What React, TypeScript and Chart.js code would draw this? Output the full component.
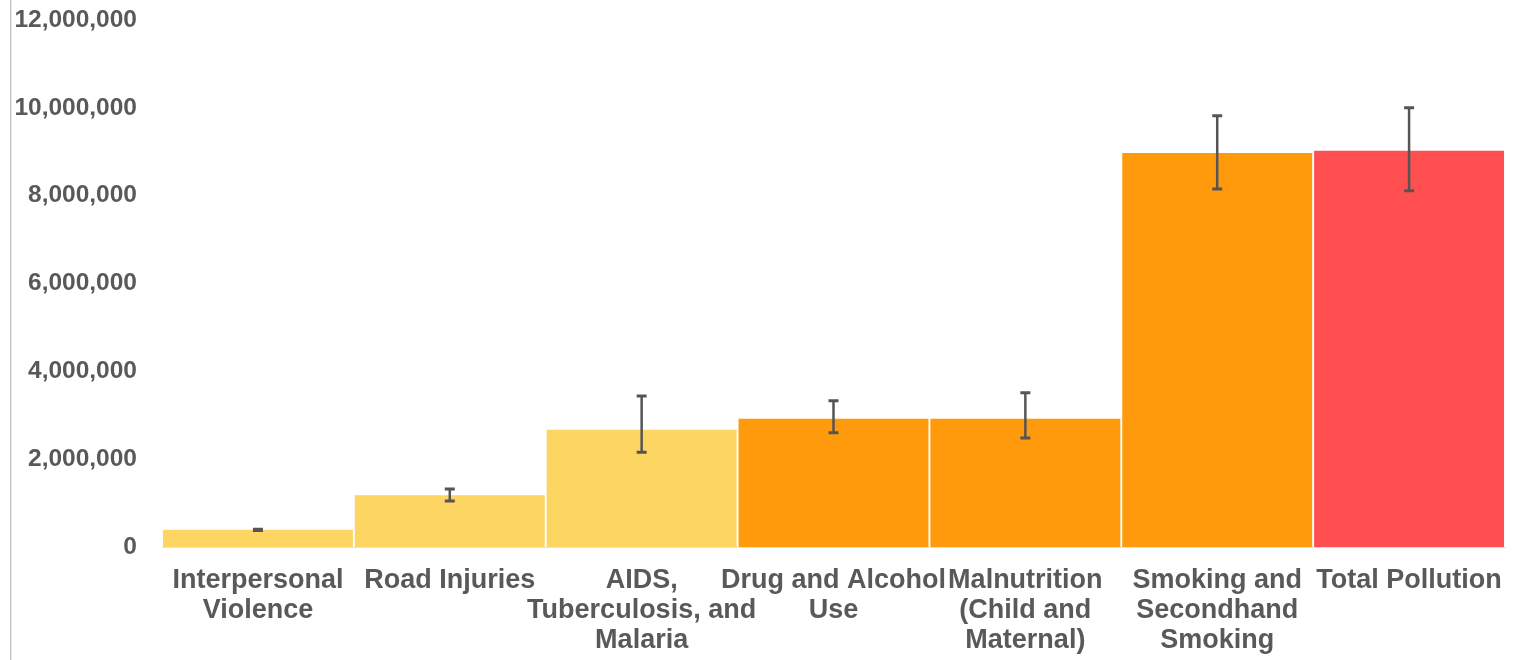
import React, { useEffect, useRef } from "react";
import { Chart, registerables } from "chart.js";

Chart.register(...registerables);

const categories: string[][] = [
  ["Interpersonal", "Violence"],
  ["Road Injuries"],
  ["AIDS,", "Tuberculosis, and", "Malaria"],
  ["Drug and Alcohol", "Use"],
  ["Malnutrition", "(Child and", "Maternal)"],
  ["Smoking and", "Secondhand", "Smoking"],
  ["Total Pollution"],
];
const deaths: number[] = [390000, 1180000, 2670000, 2920000, 2920000, 8970000, 9020000];
const errLow: number[] = [375000, 1050000, 2160000, 2600000, 2480000, 8150000, 8110000];
const errHigh: number[] = [405000, 1320000, 3440000, 3330000, 3510000, 9820000, 10000000];
const barColors: string[] = ["#FDD563", "#FDD563", "#FDD563", "#FE9A0C", "#FE9A0C", "#FE9A0C", "#FF4F50"];

const TEXT = "#595959";
const FONT = "'Liberation Sans', Arial, sans-serif";

const errorBarPlugin = {
  id: "errorBars",
  afterDatasetsDraw(chart: any) {
    const ctx = chart.ctx;
    const meta = chart.getDatasetMeta(0);
    const y = chart.scales.y;
    ctx.save();
    ctx.strokeStyle = "#555555";
    meta.data.forEach((bar: any, i: number) => {
      const x = bar.x;
      const yl = y.getPixelForValue(errLow[i]);
      const yh = y.getPixelForValue(errHigh[i]);
      ctx.lineWidth = 2.5;
      ctx.beginPath();
      ctx.moveTo(x, yl);
      ctx.lineTo(x, yh);
      ctx.stroke();
      ctx.lineWidth = 3;
      ctx.beginPath();
      ctx.moveTo(x - 5, yl);
      ctx.lineTo(x + 5, yl);
      ctx.moveTo(x - 5, yh);
      ctx.lineTo(x + 5, yh);
      ctx.stroke();
    });
    ctx.restore();
  },
  beforeDraw(chart: any) {
    const ctx = chart.ctx;
    ctx.save();
    ctx.fillStyle = "#c8c8c8";
    ctx.fillRect(10, 0, 1.5, chart.height);
    ctx.restore();
  },
};

export default function App() {
  const ref = useRef<HTMLCanvasElement | null>(null);
  useEffect(() => {
    if (!ref.current) return;
    const chart = new Chart(ref.current, {
      type: "bar",
      data: {
        labels: categories,
        datasets: [
          {
            data: deaths,
            backgroundColor: barColors,
            borderWidth: 0,
            barPercentage: 0.99,
            categoryPercentage: 1,
          },
        ],
      },
      options: {
        animation: false,
        responsive: false,
        maintainAspectRatio: false,
        layout: { padding: { top: 20, right: 21, left: 0, bottom: 0 } },
        plugins: { legend: { display: false }, tooltip: { enabled: false } },
        scales: {
          x: {
            grid: { display: false, drawTicks: false },
            border: { display: true, color: "#dfe3e8", width: 1 },
            ticks: {
              color: TEXT,
              font: { family: FONT, size: 27, weight: "bold", lineHeight: 1.12 },
              padding: 18,
              maxRotation: 0,
              autoSkip: false,
            },
            afterFit: (s: any) => {
              s.height = 113;
              s.paddingLeft = 0;
              s.paddingRight = 0;
            },
          },
          y: {
            min: 0,
            max: 12000000,
            grid: { display: false, drawTicks: false },
            border: { display: false },
            ticks: {
              stepSize: 2000000,
              color: TEXT,
              padding: 25,
              font: { family: FONT, size: 24.5, weight: "bold" },
              callback: (v: any) => Number(v).toLocaleString("en-US"),
            },
            afterFit: (s: any) => {
              s.width = 162;
              s.paddingTop = 0;
              s.paddingBottom = 0;
            },
          },
        },
      },
      plugins: [errorBarPlugin],
    });
    return () => chart.destroy();
  }, []);
  return (
    <div style={{ position: "absolute", left: 0, top: 0, width: 1526, height: 660, background: "#fff" }}>
      <canvas ref={ref} width={1526} height={660} style={{ display: "block" }} />
    </div>
  );
}
